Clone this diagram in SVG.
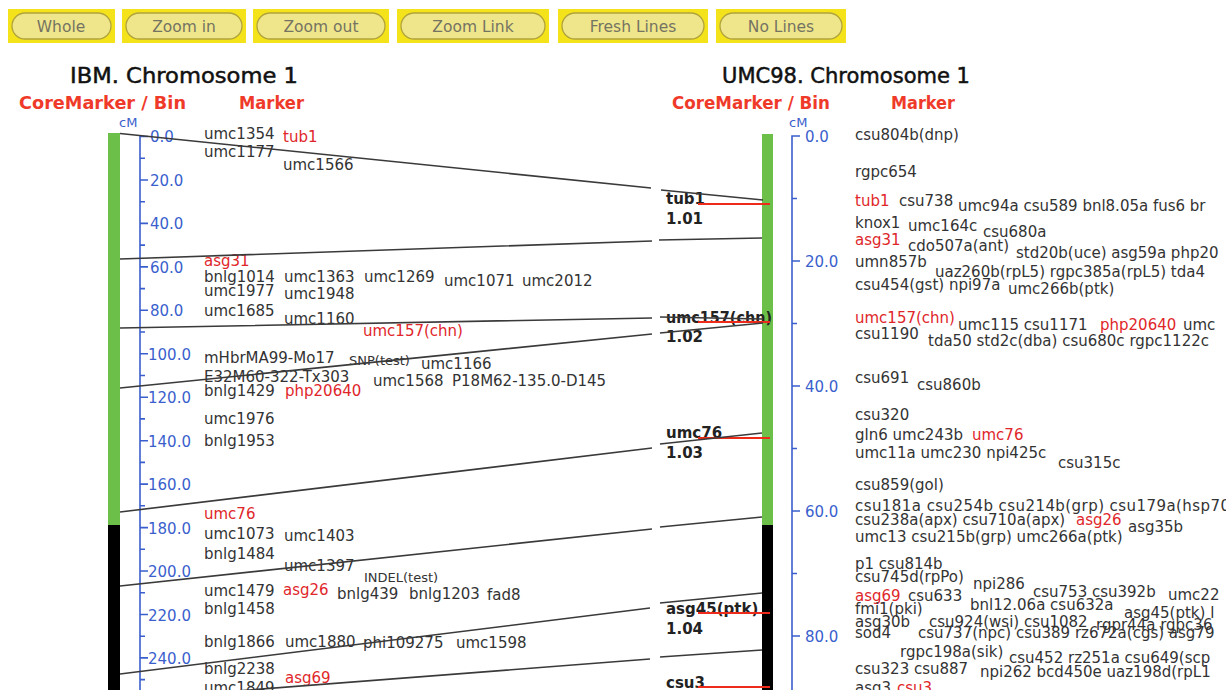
<svg xmlns="http://www.w3.org/2000/svg" width="1226" height="690" viewBox="0 0 1226 690">
<style>
text{font-family:"DejaVu Sans","Liberation Sans",sans-serif}
.btn-o{fill:#f4e31b}
.btn-i{fill:#efe68c;stroke:#b0a33c;stroke-width:1.3}
.btn-t{font-size:15.5px;fill:#757362;text-anchor:middle}
.title{font-size:21px;fill:#111;stroke:#111;stroke-width:0.5}
.hdr{font-size:17px;font-weight:bold;fill:#ef3a2a}
.m{font-size:15px;fill:#333}
.r{font-size:15px;fill:#e0262a}
.sm{font-size:13px;fill:#333}
.ax{stroke:#3a5fcd;stroke-width:1.6;fill:none}
.axt{font-size:15px;fill:#3a5fcd}
.cm{font-size:13px;fill:#3a5fcd}
.bin{font-size:15px;font-weight:bold;fill:#222}
.ln{stroke:#3a3a3a;stroke-width:1.6;fill:none}
.rl{stroke:#ee2a1a;stroke-width:2}
.green{fill:#6cc04a}
.black{fill:#000}
</style>

<g id="buttons">
  <g id="btn-whole"><rect class="btn-o" x="8" y="9" width="107" height="34"/><rect class="btn-i" x="12" y="13" width="99" height="26" rx="13"/><text class="btn-t" x="61" y="32">Whole</text></g>
  <g id="btn-zoomin"><rect class="btn-o" x="122" y="9" width="124" height="34"/><rect class="btn-i" x="126" y="13" width="116" height="26" rx="13"/><text class="btn-t" x="184" y="32">Zoom in</text></g>
  <g id="btn-zoomout"><rect class="btn-o" x="253" y="9" width="136" height="34"/><rect class="btn-i" x="257" y="13" width="128" height="26" rx="13"/><text class="btn-t" x="321" y="32">Zoom out</text></g>
  <g id="btn-zoomlink"><rect class="btn-o" x="397" y="9" width="152" height="34"/><rect class="btn-i" x="401" y="13" width="144" height="26" rx="13"/><text class="btn-t" x="473" y="32">Zoom Link</text></g>
  <g id="btn-fresh"><rect class="btn-o" x="558" y="9" width="150" height="34"/><rect class="btn-i" x="562" y="13" width="142" height="26" rx="13"/><text class="btn-t" x="633" y="32">Fresh Lines</text></g>
  <g id="btn-nolines"><rect class="btn-o" x="716" y="9" width="130" height="34"/><rect class="btn-i" x="720" y="13" width="122" height="26" rx="13"/><text class="btn-t" x="781" y="32">No Lines</text></g>
</g>

<g id="left-map">
  <text class="title" x="70" y="83" textLength="228" lengthAdjust="spacingAndGlyphs">IBM. Chromosome 1</text>
  <text class="hdr" x="19" y="109" textLength="167" lengthAdjust="spacingAndGlyphs">CoreMarker / Bin</text>
  <text class="hdr" x="239" y="109" textLength="65" lengthAdjust="spacingAndGlyphs">Marker</text>
  <rect class="green" x="108" y="133" width="12" height="392"/>
  <rect class="black" x="108" y="525" width="12" height="165"/>
  <text class="cm" x="119" y="127">cM</text>
  <path class="ax" d="M148,136.5H140V690 M140,180H148 M140,223.4H148 M140,266.9H148 M140,310.3H148 M140,353.8H148 M140,397.2H148 M140,440.7H148 M140,484.1H148 M140,527.6H148 M140,571H148 M140,614.5H148 M140,657.9H148 M140,158.2H145 M140,201.7H145 M140,245.1H145 M140,288.6H145 M140,332H145 M140,375.5H145 M140,418.9H145 M140,462.4H145 M140,505.8H145 M140,549.3H145 M140,592.7H145 M140,636.2H145 M140,679.6H145"/>
  <g class="axt">
    <text x="150" y="142">0.0</text><text x="150" y="185.5">20.0</text><text x="150" y="229">40.0</text><text x="150" y="272.5">60.0</text><text x="150" y="316">80.0</text><text x="148" y="359.5">100.0</text><text x="148" y="403">120.0</text><text x="148" y="446.5">140.0</text><text x="148" y="490">160.0</text><text x="148" y="533.5">180.0</text><text x="148" y="577">200.0</text><text x="148" y="620.5">220.0</text><text x="148" y="664">240.0</text>
  </g>
  <g id="left-markers">
    <text class="m" x="204" y="138.5">umc1354</text><text class="r" x="283" y="141.5">tub1</text>
    <text class="m" x="204" y="156.5">umc1177</text>
    <text class="m" x="283" y="169.5">umc1566</text>
    <text class="r" x="204" y="265.5">asg31</text>
    <text class="m" x="204" y="281.5">bnlg1014</text><text class="m" x="284" y="281.5">umc1363</text><text class="m" x="364" y="281.5">umc1269</text><text class="m" x="444" y="285.5">umc1071</text><text class="m" x="522" y="285.5">umc2012</text>
    <text class="m" x="204" y="295.5">umc1977</text><text class="m" x="284" y="298.5">umc1948</text>
    <text class="m" x="204" y="315.5">umc1685</text><text class="m" x="284" y="323.5">umc1160</text>
    <text class="r" x="363" y="335.5">umc157(chn)</text>
    <text class="m" x="204" y="362.5">mHbrMA99-Mo17</text><text class="sm" x="349" y="364.5">SNP(test)</text><text class="m" x="421" y="368.5">umc1166</text>
    <text class="m" x="204" y="381.5">E32M60-322-Tx303</text><text class="m" x="373" y="385.5">umc1568</text><text class="m" x="452" y="385.5">P18M62-135.0-D145</text>
    <text class="m" x="204" y="395.5">bnlg1429</text><text class="r" x="285" y="395.5">php20640</text>
    <text class="m" x="204" y="423.5">umc1976</text>
    <text class="m" x="204" y="445.5">bnlg1953</text>
    <text class="r" x="204" y="518.5">umc76</text>
    <text class="m" x="204" y="538.5">umc1073</text><text class="m" x="284" y="540.5">umc1403</text>
    <text class="m" x="204" y="558.5">bnlg1484</text>
    <text class="m" x="284" y="570.5">umc1397</text>
    <text class="sm" x="364" y="581.5">INDEL(test)</text>
    <text class="m" x="204" y="595.5">umc1479</text><text class="r" x="283" y="594.5">asg26</text><text class="m" x="337" y="598.5">bnlg439</text><text class="m" x="409" y="598.5">bnlg1203</text><text class="m" x="487" y="599.5">fad8</text>
    <text class="m" x="204" y="613.5">bnlg1458</text>
    <text class="m" x="204" y="646.5">bnlg1866</text><text class="m" x="285" y="646.5">umc1880</text><text class="m" x="363" y="647.5">phi109275</text><text class="m" x="456" y="647.5">umc1598</text>
    <text class="m" x="204" y="673.5">bnlg2238</text><text class="r" x="285" y="682.5">asg69</text>
    <text class="m" x="204" y="692.5">umc1849</text>
  </g>
</g>

<g id="right-map">
  <text class="title" x="722" y="83" textLength="248" lengthAdjust="spacingAndGlyphs">UMC98. Chromosome 1</text>
  <text class="hdr" x="672" y="109" textLength="158" lengthAdjust="spacingAndGlyphs">CoreMarker / Bin</text>
  <text class="hdr" x="891" y="109" textLength="64" lengthAdjust="spacingAndGlyphs">Marker</text>
  <rect class="green" x="762" y="134" width="11" height="391"/>
  <rect class="black" x="762" y="525" width="11" height="165"/>
  <text class="cm" x="789" y="127">cM</text>
  <path class="ax" d="M800,136H792V690 M792,261H800 M792,386H800 M792,511H800 M792,636H800 M792,198.5H797 M792,323.5H797 M792,448.5H797 M792,573.5H797"/>
  <g class="axt">
    <text x="805" y="141.5">0.0</text><text x="805" y="266.5">20.0</text><text x="805" y="391.5">40.0</text><text x="805" y="516.5">60.0</text><text x="805" y="641.5">80.0</text>
  </g>
  <g id="bins">
    <text class="bin" x="666" y="203.5">tub1</text><text class="bin" x="666" y="223.5">1.01</text>
    <text class="bin" x="666" y="322.5" textLength="106" lengthAdjust="spacingAndGlyphs">umc157(chn)</text><text class="bin" x="666" y="341.5">1.02</text>
    <text class="bin" x="666" y="437.5">umc76</text><text class="bin" x="666" y="457.5">1.03</text>
    <text class="bin" x="666" y="613.5">asg45(ptk)</text><text class="bin" x="666" y="633.5">1.04</text>
    <text class="bin" x="666" y="687.5">csu3</text>
    <line class="rl" x1="698" y1="204" x2="770" y2="204"/>
    <line class="rl" x1="698" y1="322" x2="770" y2="322"/>
    <line class="rl" x1="698" y1="438" x2="770" y2="438"/>
    <line class="rl" x1="698" y1="613" x2="770" y2="613"/>
    <line class="rl" x1="698" y1="687" x2="770" y2="687"/>
  </g>
  <g id="right-markers">
    <text class="m" x="855" y="139.5">csu804b(dnp)</text>
    <text class="m" x="855" y="176.5">rgpc654</text>
    <text class="r" x="855" y="205.5">tub1</text><text class="m" x="899" y="205.5">csu738</text><text class="m" x="958" y="211">umc94a csu589 bnl8.05a fus6 br</text>
    <text class="m" x="855" y="227.5">knox1</text><text class="m" x="908" y="230.5">umc164c</text><text class="m" x="983" y="236.5">csu680a</text>
    <text class="r" x="855" y="244.5">asg31</text><text class="m" x="908" y="250.5">cdo507a(ant)</text><text class="m" x="1016" y="257.5">std20b(uce) asg59a php20</text>
    <text class="m" x="855" y="266.5">umn857b</text><text class="m" x="935" y="276.5">uaz260b(rpL5) rgpc385a(rpL5) tda4</text>
    <text class="m" x="855" y="289.5">csu454(gst) npi97a</text><text class="m" x="1008" y="293.5">umc266b(ptk)</text>
    <text class="r" x="855" y="322.5">umc157(chn)</text><text class="m" x="958" y="329.5">umc115 csu1171</text><text class="r" x="1100" y="329.5">php20640</text><text class="m" x="1183" y="329.5">umc</text>
    <text class="m" x="855" y="338.5">csu1190</text><text class="m" x="928" y="345.5">tda50 std2c(dba) csu680c rgpc1122c</text>
    <text class="m" x="855" y="382.5">csu691</text><text class="m" x="917" y="389.5">csu860b</text>
    <text class="m" x="855" y="419.5">csu320</text>
    <text class="m" x="855" y="439.5">gln6 umc243b</text><text class="r" x="972" y="439.5">umc76</text>
    <text class="m" x="855" y="457.5">umc11a umc230 npi425c</text><text class="m" x="1058" y="467.5">csu315c</text>
    <text class="m" x="855" y="489.5">csu859(gol)</text>
    <text class="m" x="855" y="510.5" textLength="375" lengthAdjust="spacing">csu181a csu254b csu214b(grp) csu179a(hsp70</text>
    <text class="m" x="855" y="524.5">csu238a(apx) csu710a(apx)</text><text class="r" x="1076" y="524.5">asg26</text><text class="m" x="1128" y="532">asg35b</text>
    <text class="m" x="855" y="541.5">umc13 csu215b(grp) umc266a(ptk)</text>
    <text class="m" x="855" y="568.5">p1 csu814b</text>
    <text class="m" x="855" y="581.5">csu745d(rpPo)</text><text class="m" x="973" y="588.5">npi286</text>
    <text class="r" x="855" y="600.5">asg69</text><text class="m" x="908" y="600.5">csu633</text><text class="m" x="1033" y="596.5">csu753 csu392b</text><text class="m" x="1168" y="599.5">umc22</text>
    <text class="m" x="855" y="613.5">fmi1(pki)</text><text class="m" x="970" y="609.5">bnl12.06a csu632a</text><text class="m" x="1124" y="617.5">asg45(ptk) l</text>
    <text class="m" x="855" y="626.5">asg30b</text><text class="m" x="929" y="626.5">csu924(wsi) csu1082</text><text class="m" x="1096" y="629.5">rgpr44a rgpc36</text>
    <text class="m" x="855" y="637.5">sod4</text><text class="m" x="918" y="637.5">csu737(npc) csu389 rz672a(cgs) asg79</text>
    <text class="m" x="900" y="656.5">rgpc198a(sik)</text><text class="m" x="1009" y="662.5">csu452 rz251a csu649(scp</text>
    <text class="m" x="855" y="673.5">csu323 csu887</text><text class="m" x="980" y="676.5">npi262 bcd450e uaz198d(rpL1</text>
    <text class="m" x="855" y="692.5">asg3</text><text class="r" x="897" y="692.5">csu3</text>
  </g>
</g>

<g id="connectors">
  <path class="ln" d="M120,133.5L651,188 M661,190L763,200"/>
  <path class="ln" d="M120,259L652,241 M659,240L762,238"/>
  <path class="ln" d="M120,328L652,318 M660,317L763,319"/>
  <path class="ln" d="M120,388L652,334 M660,333L763,323"/>
  <path class="ln" d="M120,512L652,448 M660,444L762,433"/>
  <path class="ln" d="M120,586L652,529 M660,527L762,517"/>
  <path class="ln" d="M120,674L650,608 M660,603L762,593"/>
  <path class="ln" d="M120,700L650,659 M660,657L762,650"/>
</g>
</svg>
